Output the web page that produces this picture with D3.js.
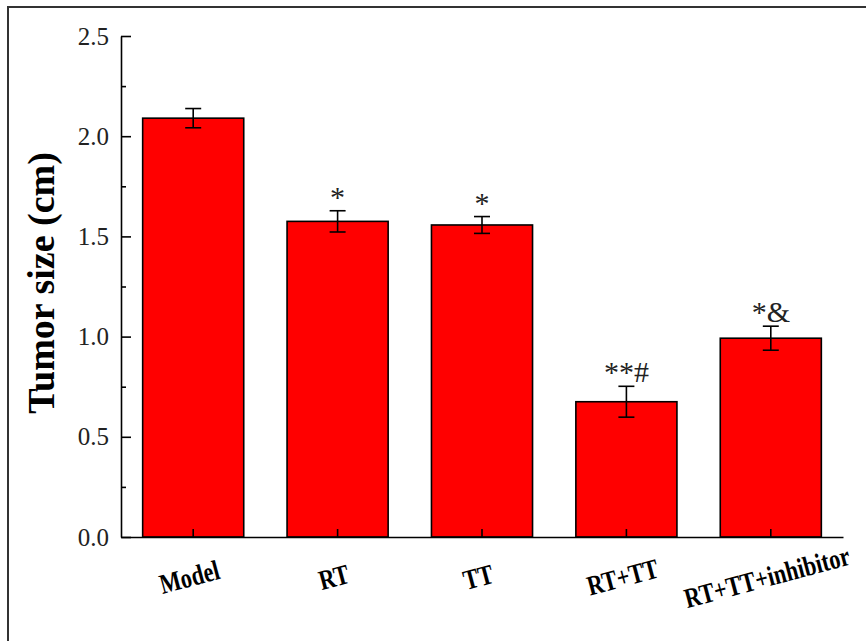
<!DOCTYPE html>
<html>
<head>
<meta charset="utf-8">
<script src="https://cdn.jsdelivr.net/npm/d3@7"></script>
<style>
	body { margin: 0; background: #fff; }
	svg { display: block; font-family: "Liberation Serif", "Times New Roman", serif; }
	.domain, .tick line { stroke: #000; stroke-width: 1.6; }
</style>
</head>
<body>
<div id="chart"></div>
<script>
const groups = ["Model", "RT", "TT", "RT+TT", "RT+TT+inhibitor"];
const means = [2.09, 1.575, 1.557, 0.675, 0.992];
const errors = [0.048, 0.053, 0.042, 0.077, 0.06];
const marks = ["", "*", "*", "**#", "*&"];
const yTicks = [0, 0.5, 1.0, 1.5, 2.0, 2.5];
const yMinor = [0.25, 0.75, 1.25, 1.75, 2.25];

const width = 866, height = 641;
const svg = d3.select("#chart")
	.append("svg")
	.attr("width", width)
	.attr("height", height);

// frame of the original figure (only top and left visible)
svg.append("rect")
	.attr("x", 8).attr("y", 7)
	.attr("width", 900).attr("height", 700)
	.attr("fill", "none")
	.attr("stroke", "#333")
	.attr("stroke-width", 2);

const xscale = d3.scaleBand()
	.domain(groups)
	.range([121, 843])
	.paddingInner(0.3)
	.paddingOuter(0.15);

const yscale = d3.scaleLinear()
	.domain([0, 2.5])
	.range([537, 36]);

// bars
svg.append("g")
	.selectAll("rect")
	.data(groups)
	.join("rect")
	.attr("x", d => xscale(d))
	.attr("y", (d, i) => yscale(means[i]))
	.attr("width", xscale.bandwidth())
	.attr("height", (d, i) => yscale(0) - yscale(means[i]))
	.attr("fill", "#ff0000")
	.attr("stroke", "#000")
	.attr("stroke-width", 1.6);

// error bars
const cx = d => xscale(d) + xscale.bandwidth() / 2;
const err = svg.append("g").attr("stroke", "#000").attr("stroke-width", 1.6);
groups.forEach((g, i) => {
	const top = yscale(means[i] + errors[i]);
	const bot = yscale(means[i] - errors[i]);
	err.append("line").attr("x1", cx(g)).attr("x2", cx(g)).attr("y1", top).attr("y2", bot);
	err.append("line").attr("x1", cx(g) - 8).attr("x2", cx(g) + 8).attr("y1", top).attr("y2", top);
	err.append("line").attr("x1", cx(g) - 8).attr("x2", cx(g) + 8).attr("y1", bot).attr("y2", bot);
});

// significance marks
svg.append("g")
	.selectAll("text")
	.data(groups)
	.join("text")
	.attr("x", d => cx(d))
	.attr("y", (d, i) => yscale(means[i] + errors[i]) - 4)
	.attr("text-anchor", "middle")
	.attr("font-size", 30)
	.attr("fill", "#222")
	.text((d, i) => marks[i]);

// y axis
const y_axis = d3.axisLeft(yscale)
	.tickValues(yTicks)
	.tickSizeInner(-10)
	.tickSizeOuter(0)
	.tickPadding(12)
	.tickFormat(d3.format(".1f"));

svg.append("g")
	.attr("transform", "translate(121,0)")
	.call(y_axis)
	.attr("font-family", null)
	.attr("font-size", 25)
	.call(g => g.selectAll("text").attr("fill", "#222"));

svg.append("g")
	.attr("transform", "translate(121,0)")
	.call(d3.axisLeft(yscale).tickValues(yMinor).tickSizeInner(-5).tickSizeOuter(0).tickFormat(""))
	.call(g => g.select(".domain").remove());

// x axis
const x_axis = d3.axisBottom(xscale)
	.tickSizeInner(-8)
	.tickSizeOuter(0)
	.tickFormat("");

svg.append("g")
	.attr("transform", "translate(0,537)")
	.call(x_axis);

// labels look condensed in the original, so squeeze them a bit
svg.append("g")
	.selectAll("text")
	.data(groups)
	.join("text")
	.attr("transform", d => "translate(" + (cx(d) - 3) + ",580) rotate(-15) scale(0.86,1.08)")
	.attr("text-anchor", "middle")
	.attr("dominant-baseline", "middle")
	.attr("font-size", 26)
	.attr("font-weight", "bold")
	.text(d => d);

// y title
svg.append("text")
	.attr("transform", "translate(54,283) rotate(-90)")
	.attr("text-anchor", "middle")
	.attr("font-size", 38)
	.attr("font-weight", "bold")
	.text("Tumor size (cm)");
</script>
</body>
</html>
